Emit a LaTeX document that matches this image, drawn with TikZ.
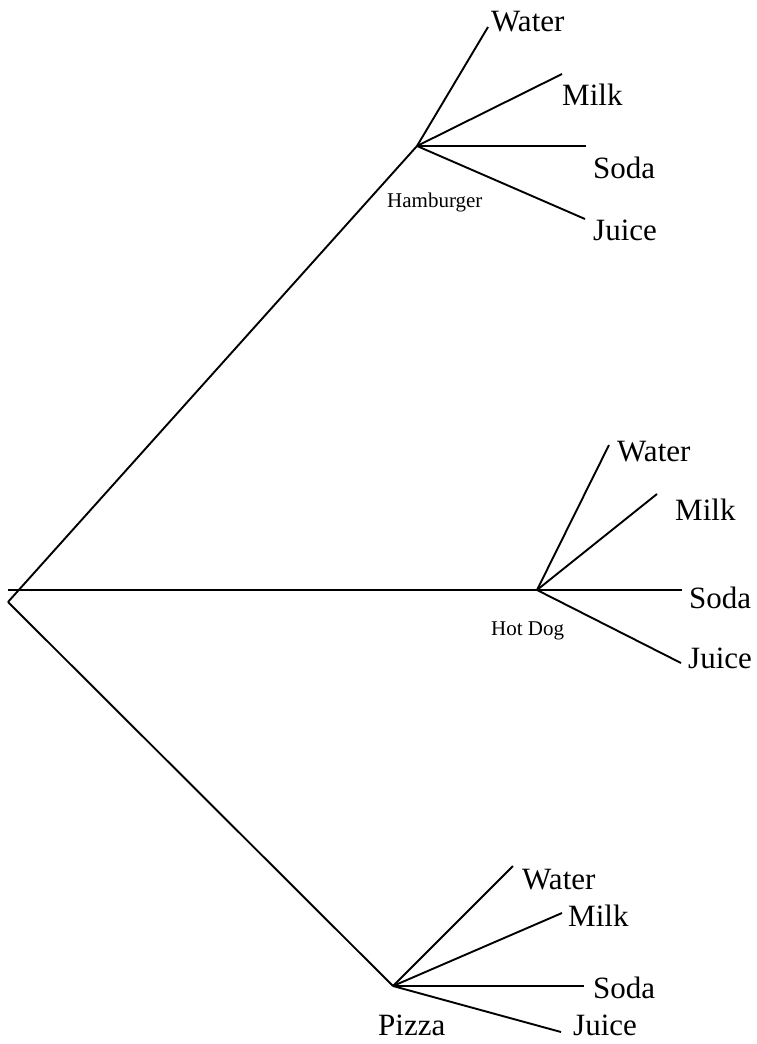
\documentclass[tikz,border=0pt]{standalone}
\usepackage{fontspec}
\setmainfont{Liberation Serif}
\begin{document}
\begin{tikzpicture}[x=1pt,y=-1pt,
  branch/.style={line width=1.9pt},
  big/.style={inner sep=0pt,anchor=base west,font=\fontsize{31}{37}\selectfont},
  small/.style={inner sep=0pt,anchor=base west,font=\fontsize{21}{25}\selectfont}]
\useasboundingbox (0,0) rectangle (756,1044);
% root and vertices
\coordinate (root) at (8,602);
\coordinate (rooth) at (8,590);
\coordinate (ham) at (417,146);
\coordinate (hot) at (537,590);
\coordinate (piz) at (393,986);
% Hamburger branch ends
\coordinate (hw) at (488,27);
\coordinate (hm) at (562,74);
\coordinate (hs) at (586,146);
\coordinate (hj) at (585,219);
% Hot dog branch ends
\coordinate (dw) at (609,445);
\coordinate (dm) at (657,494);
\coordinate (ds) at (682,590);
\coordinate (dj) at (681,663);
% Pizza branch ends
\coordinate (pw) at (513,866);
\coordinate (pm) at (562,913);
\coordinate (ps) at (584,986);
\coordinate (pj) at (561,1032);
% main branches
\draw[branch] (root) -- (ham);
\draw[branch] (rooth) -- (hot);
\draw[branch] (root) -- (piz);
\foreach \v/\e in {ham/hw,ham/hm,ham/hs,ham/hj,hot/dw,hot/dm,hot/ds,hot/dj,piz/pw,piz/pm,piz/ps,piz/pj}
  \draw[branch] (\v) -- (\e);
% labels
\node[big] (lhw) at (491,31) {Water};
\node[big] (lhm) at (562,105) {Milk};
\node[big] (lhs) at (593,178) {Soda};
\node[big] (lhj) at (593,240) {Juice};
\node[small] (lham) at (387,207) {Hamburger};
\node[big] (ldw) at (617,461) {Water};
\node[big] (ldm) at (675,520) {Milk};
\node[big] (lds) at (689,608) {Soda};
\node[big] (ldj) at (688,668) {Juice};
\node[small] (lhot) at (491,635) {Hot Dog};
\node[big] (lpw) at (522,889) {Water};
\node[big] (lpm) at (568,926) {Milk};
\node[big] (lps) at (593,998) {Soda};
\node[big] (lpj) at (573,1035) {Juice};
\node[big] (lpiz) at (378,1035) {Pizza};
\end{tikzpicture}
\end{document}
